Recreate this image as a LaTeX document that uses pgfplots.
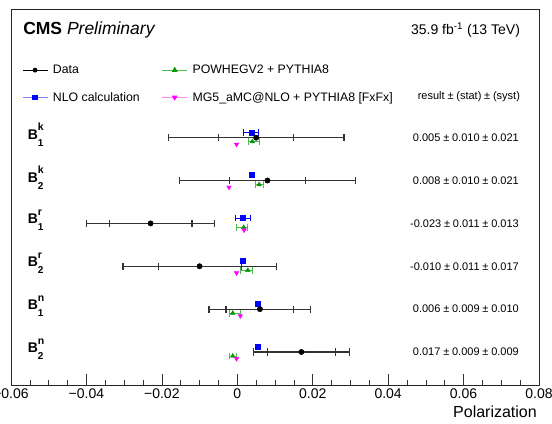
\documentclass[border=0pt]{standalone}
\usepackage{fontspec}
\setmainfont{Liberation Sans}
\usepackage{pgfplots}
\pgfplotsset{compat=1.18}
\definecolor{cmsgreen}{RGB}{0,150,0}
\definecolor{cmslgreen}{RGB}{80,185,80}
\definecolor{cmsmag}{RGB}{255,0,255}
\definecolor{cmslmag}{RGB}{255,140,255}
\definecolor{cmslblue}{RGB}{130,130,255}
\newcommand{\Blab}[2]{\fontsize{14}{14}\selectfont\bfseries B\makebox[0pt][l]{\raisebox{0.6em}{\fontsize{10.5}{10.5}\selectfont #1}}\raisebox{-0.5em}{\fontsize{10}{10}\selectfont #2}}
\newcommand{\pmv}{\hspace{2.8pt}±\hspace{2.8pt}}
\begin{document}
\begin{tikzpicture}
\begin{axis}[
  scale only axis, width=528pt, height=376pt,
  xmin=-0.06, xmax=0.08, ymin=0.218, ymax=8.991,
  clip=false,
  axis line style={line width=0.8pt, black!85},
  scaled x ticks=false,
  xtick={-0.06,-0.04,-0.02,0,0.02,0.04,0.06,0.08},
  xticklabels={−0.06,−0.04,−0.02,0,0.02,0.04,0.06,0.08},
  minor x tick num=3,
  ytick=\empty,
  xtick pos=bottom, tick align=inside,
  major tick length=12pt, minor tick length=6pt,
  tick style={black!80, line width=0.6pt},
  xticklabel style={font=\fontsize{14}{14}\selectfont},
  xlabel={Polarization},
  xlabel style={at={(rel axis cs:1,0)}, anchor=north east, yshift=-20pt, xshift=-2pt, inner sep=0pt, font=\fontsize{16}{16}\selectfont},
  legend columns=2,
  legend cell align=left,
  legend image code/.code={\draw[mark repeat=2,mark phase=2,#1] plot coordinates {(0pt,0pt) (12.5pt,0pt) (25pt,0pt)};},
  legend style={draw=none, fill=none, at={(rel axis cs:0.0208,0.858)}, anchor=north west, inner sep=0pt,
    font=\fontsize{12.3}{12.3}\selectfont, row sep=13pt,
    /tikz/every odd column/.append style={column sep=3pt},
    /tikz/every even column/.append style={column sep=20pt},
    nodes={inner sep=2pt}},
]
\addlegendimage{black, line width=0.8pt, mark=*, mark size=2pt}
\addlegendentry{Data}
\addlegendimage{cmslgreen, line width=0.8pt, mark=triangle*, mark size=2.6pt, mark options={cmsgreen}}
\addlegendentry{POWHEGV2 + PYTHIA8}
\addlegendimage{cmslblue, line width=0.8pt, mark=square*, mark size=2.2pt, mark options={blue}}
\addlegendentry{NLO calculation}
\addlegendimage{cmslmag, line width=0.8pt, mark=triangle*, mark size=2.6pt, mark options={cmsmag, rotate=180}}
\addlegendentry{MG5\_aMC@NLO + PYTHIA8 [FxFx]}

% NLO calculation with bars
\addplot[forget plot, only marks, mark=square*, mark size=2.5pt, blue,
  error bars/.cd, x dir=both, x explicit, error mark=|,
  error bar style={blue, line width=0.8pt},
  error mark options={blue, line width=0.8pt, mark size=3.4pt}]
  coordinates {(0.0037,6.125) += (0.0019,0) -= (0.0020,0)
               (0.0014,4.125) += (0.0020,0) -= (0.0020,0)};
% NLO calculation without bars
\addplot[forget plot, only marks, mark=square*, mark size=2.5pt, blue]
  coordinates {(0.0038,5.125) (0.0014,3.125) (0.0054,2.125) (0.0054,1.125)};
% POWHEG
\addplot[forget plot, only marks, mark=triangle*, mark size=2.6pt, cmsgreen,
  error bars/.cd, x dir=both, x explicit, error mark=|,
  error bar style={cmslgreen, line width=0.8pt},
  error mark options={cmslgreen, line width=0.8pt, mark size=3.4pt}]
  coordinates {(0.0040,5.907) += (0.0018,0) -= (0.0011,0)
               (0.0058,4.907) += (0.0010,0) -= (0.0010,0)
               (0.0017,3.907) += (0.0011,0) -= (0.0019,0)
               (0.0028,2.907) += (0.0011,0) -= (0.0021,0)
               (-0.0012,1.907) += (0.0019,0) -= (0.0010,0)
               (-0.0012,0.907) += (0.0009,0) -= (0.0010,0)};
% MG5
\addplot[forget plot, only marks, mark=triangle*, mark size=2.6pt, cmsmag, mark options={rotate=180}]
  coordinates {(-0.0002,5.843) (-0.0022,4.843) (0.0018,3.843) (-0.0002,2.843) (0.0008,1.843) (-0.0002,0.843)};
% Data total
\addplot[forget plot, only marks, mark=none,
  error bars/.cd, x dir=both, x explicit, error mark=|,
  error bar style={draw=black!80, line width=1.1pt},
  error mark options={draw=black!80, line width=1.1pt, mark size=3.6pt}]
  coordinates {(0.005,6) +- (0.0233,0) (0.008,5) +- (0.0233,0) (-0.023,4) +- (0.0170,0)
               (-0.010,3) +- (0.0203,0) (0.006,2) +- (0.0135,0) (0.017,1) +- (0.0127,0)};
% Data stat
\addplot[forget plot, only marks, mark=*, mark size=2.7pt, black,
  error bars/.cd, x dir=both, x explicit, error mark=|,
  error bar style={draw=black!80, line width=1.1pt},
  error mark options={draw=black!80, line width=1.1pt, mark size=3.6pt}]
  coordinates {(0.005,6) +- (0.010,0) (0.008,5) +- (0.010,0) (-0.023,4) +- (0.011,0)
               (-0.010,3) +- (0.011,0) (0.006,2) +- (0.009,0) (0.017,1) +- (0.009,0)};

% Header
\node[anchor=base west, inner sep=0pt, font=\fontsize{17.5}{17.5}\selectfont] at (axis cs:-0.0568,8.396) {\textbf{CMS} \textit{Preliminary}};
\node[anchor=base east, inner sep=0pt, font=\fontsize{14}{14}\selectfont] at (axis cs:0.075,8.396) {35.9 fb\textsuperscript{-1} (13 TeV)};
\node[anchor=base east, inner sep=0pt, font=\fontsize{11}{11}\selectfont] at (axis cs:0.075,6.90) {result\pmv(stat)\pmv(syst)};

% Row labels
\node[anchor=west, inner sep=0pt] at (axis cs:-0.0556,6.07) {\Blab{k}{1}};
\node[anchor=west, inner sep=0pt] at (axis cs:-0.0556,5.07) {\Blab{k}{2}};
\node[anchor=west, inner sep=0pt] at (axis cs:-0.0556,4.07) {\Blab{r}{1}};
\node[anchor=west, inner sep=0pt] at (axis cs:-0.0556,3.07) {\Blab{r}{2}};
\node[anchor=west, inner sep=0pt] at (axis cs:-0.0556,2.07) {\Blab{n}{1}};
\node[anchor=west, inner sep=0pt] at (axis cs:-0.0556,1.07) {\Blab{n}{2}};

% Results
\tikzset{res/.style={anchor=east, inner sep=0pt, font=\fontsize{11}{11}\selectfont}}
\node[res] at (axis cs:0.0747,6) {0.005\pmv0.010\pmv0.021};
\node[res] at (axis cs:0.0747,5) {0.008\pmv0.010\pmv0.021};
\node[res] at (axis cs:0.0747,4) {-0.023\pmv0.011\pmv0.013};
\node[res] at (axis cs:0.0747,3) {-0.010\pmv0.011\pmv0.017};
\node[res] at (axis cs:0.0747,2) {0.006\pmv0.009\pmv0.010};
\node[res] at (axis cs:0.0747,1) {0.017\pmv0.009\pmv0.009};
\end{axis}
\pgfresetboundingbox
\path ([xshift=-11pt,yshift=-37.5pt]current axis.south west) rectangle ([xshift=13pt,yshift=9.5pt]current axis.north east);
\end{tikzpicture}
\end{document}
